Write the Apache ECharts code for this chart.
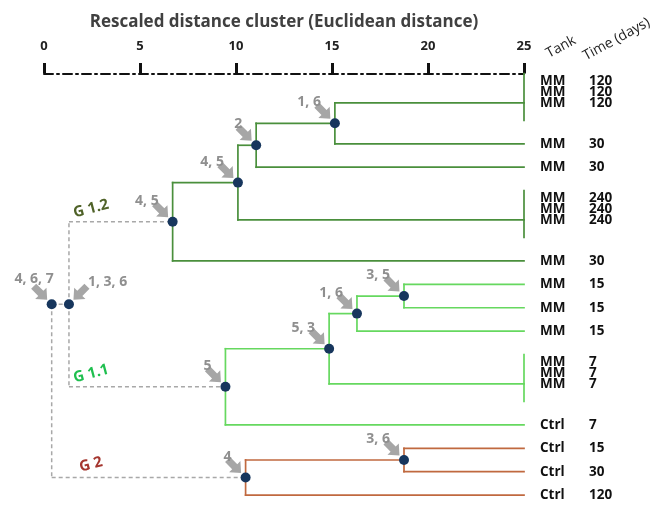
<!DOCTYPE html>
<html>
<head>
<meta charset="utf-8">
<script src="https://cdn.jsdelivr.net/npm/echarts@6/dist/echarts.min.js"></script>
<style>
  html, body { margin: 0; padding: 0; background: #fff; }
  #chart { width: 652px; height: 508px; }
</style>
</head>
<body>
<div id="chart"></div>
<script>
// leaves, top to bottom (row positions)
const leafTank = ["MM", "MM", "MM", "MM", "MM", "MM", "MM", "MM", "MM", "MM", "MM", "MM", "MM", "MM", "MM", "Ctrl", "Ctrl", "Ctrl", "Ctrl"];
const leafTime = ["120", "120", "120", "30", "30", "240", "240", "240", "30", "15", "15", "15", "7", "7", "7", "7", "15", "30", "120"];
const leafRow = [0.33, 0.79, 1.25, 3, 4, 5.33, 5.79, 6.25, 8, 9, 10, 11, 12.33, 12.79, 13.25, 15, 16, 17, 18];

// replicates tied at distance 25
const tieLeaves = [[0, 1, 2], [5, 6, 7], [12, 13, 14]];
const tieSpan = [[0, 2], [5, 7], [12, 14]];
const tieStyle = ["g12", "g12", "g11"];

// merge nodes: numbers are leaves, "t0".."t2" are tied groups
const nodeId = ["A", "B", "C", "D", "H", "G", "F", "E", "I", "M", "J", "K"];
const nodeDist = [15.15, 11.05, 10.1, 6.7, 18.75, 16.3, 14.85, 9.45, 18.75, 10.5, 1.3, 0.4];
const nodeKids = [["t0", 3], ["A", 4], ["B", "t1"], ["C", 8], [9, 10], ["H", 11], ["G", "t2"], ["F", 15], [16, 17], ["I", 18], ["D", "E"], ["J", "M"]];
const nodeNote = ["1, 6", "2", "4, 5", "4, 5", "3, 5", "1, 6", "5, 3", "5", "3, 6", "4", "1, 3, 6", "4, 6, 7"];
const noteSide = ["left", "left", "left", "left", "left", "left", "left", "left", "left", "left", "right", "top"];
const nodeStyle = ["g12", "g12", "g12", "g12", "g11", "g11", "g11", "g11", "g2", "g2", "link", "link"];

const groupName = ["G 1.2", "G 1.1", "G 2"];
const groupNode = ["D", "E", "M"];
const groupColor = ["#4f6228", "#1fbf4f", "#a5362f"];

const LEAF_X = 25;
const styleKeys = ["g12", "g11", "g2", "link"];
const lineStyles = [
  { stroke: "#4a8f3c", lineWidth: 1.7, lineCap: "square" },
  { stroke: "#66d85f", lineWidth: 1.7, lineCap: "square" },
  { stroke: "#c0693f", lineWidth: 1.7, lineCap: "square" },
  { stroke: "#a8a8a8", lineWidth: 1.5, lineDash: [4, 3] },
];

const pos = {};
function place(id) {
  if (pos[id]) return pos[id];
  if (typeof id === "number") return (pos[id] = [LEAF_X, leafRow[id]]);
  if (id[0] === "t") {
    const ls = tieLeaves[+id.slice(1)];
    return (pos[id] = [LEAF_X, leafRow[ls[ls.length - 1]]]);
  }
  const i = nodeId.indexOf(id);
  const kids = nodeKids[i].map(place);
  // the root dot sits level with its upper child
  const y = id === "K" ? kids[0][1] : (kids[0][1] + kids[1][1]) / 2;
  return (pos[id] = [nodeDist[i], y]);
}

const segs = [];
nodeId.forEach((id, i) => {
  const p = place(id);
  const s = styleKeys.indexOf(nodeStyle[i]);
  nodeKids[i].forEach((k) => {
    const c = place(k);
    if (c[1] !== p[1]) segs.push([p[0], p[1], p[0], c[1], s]);
    segs.push([p[0], c[1], c[0], c[1], s]);
  });
});
tieSpan.forEach((sp, k) => segs.push([LEAF_X, sp[0], LEAF_X, sp[1], styleKeys.indexOf(tieStyle[k])]));

const nodeData = nodeId.map((id, i) => place(id).concat([i]));
const leafData = leafRow.map((r, i) => [LEAF_X, r, i]);
const groupData = groupNode.map((id, k) => [2.45, place(id)[1], k]);

const labelFont = "bold 13.5px 'Open Sans', sans-serif";
const noteFont = "bold 14px 'Open Sans', sans-serif";

function renderSeg(params, api) {
  const a = api.coord([api.value(0), api.value(1)]);
  const b = api.coord([api.value(2), api.value(3)]);
  return {
    type: "line",
    shape: { x1: a[0], y1: a[1], x2: b[0], y2: b[1] },
    style: Object.assign({ fill: null }, lineStyles[api.value(4)]),
  };
}

function renderNote(params, api) {
  const i = api.value(2);
  const c = api.coord([api.value(0), api.value(1)]);
  const side = noteSide[i];
  const dir = side === "right" ? 1 : -1;
  const tip = [c[0] + dir * 4.5, c[1] - 4.5];
  const tail = [c[0] + dir * 18, c[1] - 18];
  const dx = tip[0] - tail[0], dy = tip[1] - tail[1];
  const len = Math.sqrt(dx * dx + dy * dy);
  const u = [dx / len, dy / len], n = [-u[1], u[0]];
  const at = (d, w) => [tail[0] + u[0] * d + n[0] * w, tail[1] + u[1] * d + n[1] * w];
  const h = len - 9;
  const points = [at(0, -3.6), at(h, -3.6), at(h, -8), tip, at(h, 8), at(h, 3.6), at(0, 3.6)];
  let tx, ty, align;
  if (side === "right") { tx = c[0] + 19; ty = c[1] - 22; align = "left"; }
  else if (side === "top") { tx = c[0] + 2; ty = c[1] - 25; align = "right"; }
  else { tx = c[0] - 14; ty = c[1] - 21; align = "right"; }
  return {
    type: "group",
    children: [
      { type: "polygon", shape: { points }, style: { fill: "#a6a6a6" } },
      { type: "text", x: tx, y: ty, style: { text: nodeNote[i], font: noteFont, fill: "#8f8f8f", align, verticalAlign: "middle" } },
    ],
  };
}

function renderLeaf(params, api) {
  const i = api.value(2);
  const c = api.coord([api.value(0), api.value(1)]);
  return {
    type: "group",
    children: [
      { type: "text", x: c[0] + 16, y: c[1], style: { text: leafTank[i], font: labelFont, fill: "#111", align: "left", verticalAlign: "middle" } },
      { type: "text", x: c[0] + 65, y: c[1], style: { text: leafTime[i], font: labelFont, fill: "#111", align: "left", verticalAlign: "middle" } },
    ],
  };
}

function renderGroup(params, api) {
  const k = api.value(2);
  const c = api.coord([api.value(0), api.value(1)]);
  return {
    type: "text",
    x: c[0],
    y: c[1] - 13,
    rotation: 0.26,
    style: { text: groupName[k], font: "bold 15px 'Open Sans', sans-serif", fill: groupColor[k], align: "center", verticalAlign: "middle" },
  };
}

const chart = echarts.init(document.getElementById("chart"), null, { renderer: "canvas" });

const xCommon = { type: "value", min: 0, max: 25, interval: 5, position: "top", splitLine: { show: false } };

chart.setOption({
  animation: false,
  grid: { left: 44, right: 128, top: 63, height: 450 },
  xAxis: [
    Object.assign({}, xCommon, {
      name: "Rescaled distance cluster (Euclidean distance)",
      nameLocation: "middle",
      nameGap: 32,
      nameTextStyle: { fontFamily: "Open Sans", fontWeight: "bold", fontSize: 17, color: "#404040" },
      axisLine: { show: true, lineStyle: { color: "#111", width: 2, type: [9, 4, 2, 4] } },
      axisTick: { show: true, length: 6, lineStyle: { color: "#111", width: 3 } },
      axisLabel: { margin: 10, fontFamily: "Open Sans", fontWeight: "bold", fontSize: 13, color: "#222" },
    }),
    Object.assign({}, xCommon, {
      axisLine: { show: false },
      axisTick: { show: true, inside: true, length: 6, lineStyle: { color: "#111", width: 3 } },
      axisLabel: { show: false },
    }),
  ],
  yAxis: { type: "value", inverse: true, min: -0.45, max: 18.55, show: false },
  graphic: [
    { type: "text", x: 561, y: 47, rotation: 0.5, style: { text: "Tank", font: "14px 'Open Sans', sans-serif", fill: "#222", align: "center", verticalAlign: "middle" } },
    { type: "text", x: 584, y: 57, rotation: 0.5, style: { text: "Time (days)", font: "14px 'Open Sans', sans-serif", fill: "#222", align: "left", verticalAlign: "middle" } },
  ],
  series: [
    { type: "custom", name: "links", renderItem: renderSeg, data: segs, silent: true, z: 2 },
    { type: "custom", name: "leaves", renderItem: renderLeaf, data: leafData, silent: true, z: 2 },
    { type: "custom", name: "groups", renderItem: renderGroup, data: groupData, silent: true, z: 2 },
    {
      type: "scatter", name: "nodes", data: nodeData, symbol: "circle", symbolSize: 10,
      itemStyle: { color: "#17365d", opacity: 1 }, silent: true, z: 4,
    },
    { type: "custom", name: "notes", renderItem: renderNote, data: nodeData, silent: true, z: 5 },
  ],
});
</script>
</body>
</html>
